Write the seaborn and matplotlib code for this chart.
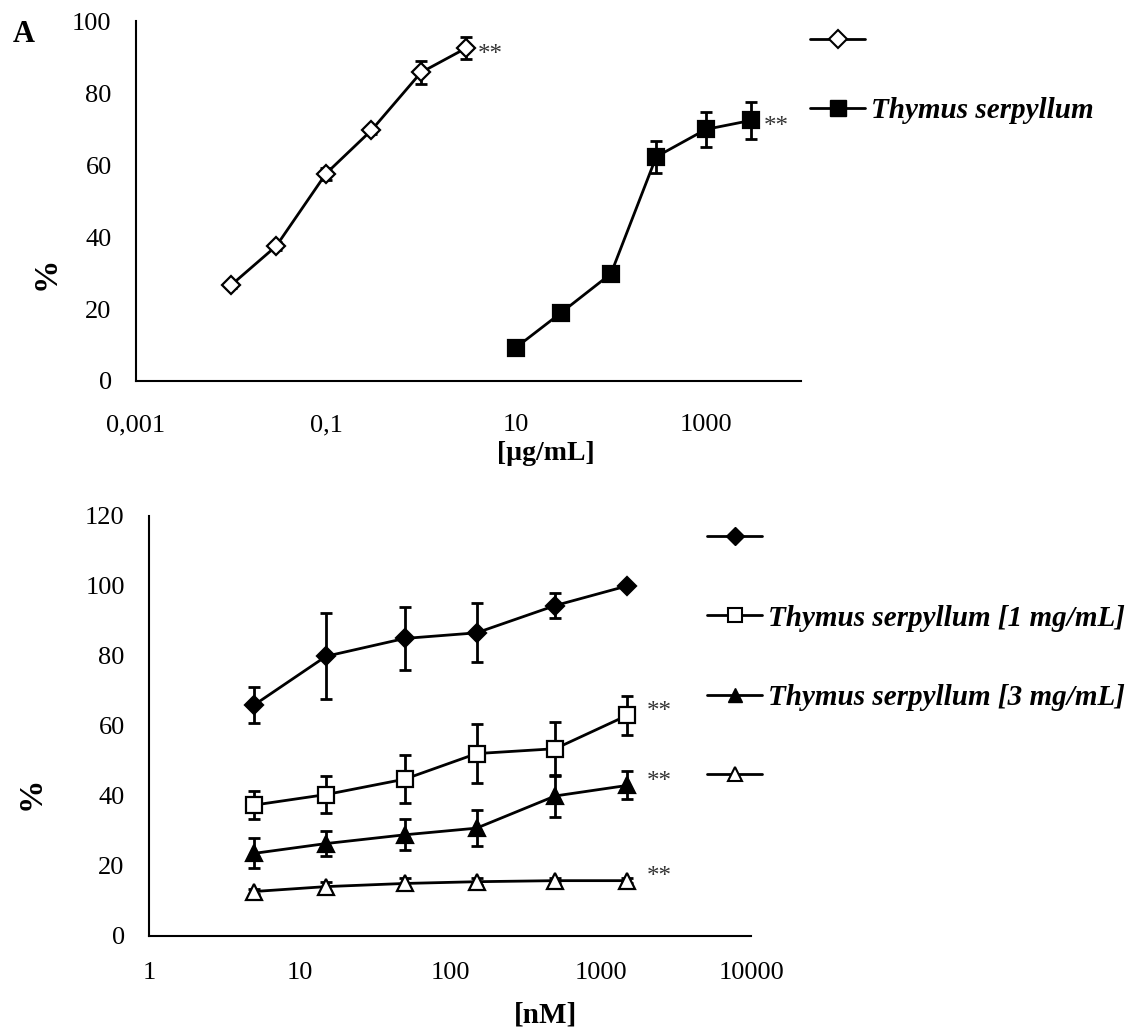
import numpy as np
import pandas as pd
import matplotlib
matplotlib.use("Agg")
import matplotlib.pyplot as plt
from matplotlib.lines import Line2D
import seaborn as sns

# panel A: concentration [ug/mL] vs %
conc_ref = [0.01, 0.03, 0.1, 0.3, 1, 3]
pct_ref = [26.6, 37.5, 57.6, 69.6, 85.7, 92.5]
err_ref = [0.8, 1.0, 1.7, 1.0, 3.2, 3.0]

conc_thy = [10, 30, 100, 300, 1000, 3000]
pct_thy = [9.3, 19.0, 29.8, 62.3, 69.9, 72.4]
err_thy = [0.8, 0.8, 1.5, 4.4, 4.9, 5.2]

top_labels = ["", "Thymus serpyllum"]
top_xticks = [0.001, 0.1, 10, 1000]
top_xticklabels = ["0,001", "0,1", "10", "1000"]

# panel B: concentration [nM] vs %
conc_nm = [5, 15, 50, 150, 500, 1500]
bottom_labels = ["", "Thymus serpyllum [1 mg/mL]", "Thymus serpyllum [3 mg/mL]", ""]
pct_s1 = [66.0, 79.9, 85.0, 86.6, 94.4, 100.0]
err_s1 = [5.2, 12.3, 9.1, 8.4, 3.6, 0.0]
pct_s2 = [37.4, 40.4, 44.8, 52.1, 53.5, 63.0]
err_s2 = [3.9, 5.3, 6.8, 8.5, 7.7, 5.5]
pct_s3 = [23.6, 26.4, 28.9, 30.8, 40.0, 43.0]
err_s3 = [4.3, 3.5, 4.4, 5.1, 5.9, 4.0]
pct_s4 = [12.7, 14.1, 15.0, 15.5, 15.8, 15.8]
err_s4 = [0.8, 1.2, 1.5, 1.0, 0.8, 0.8]
bottom_xticks = [1, 10, 100, 1000, 10000]

sns.set_style("white")
plt.rcParams["font.family"] = ["Liberation Serif", "DejaVu Serif"]
plt.rcParams["text.color"] = "black"
plt.rcParams["axes.labelcolor"] = "black"

FS = 19
fig = plt.figure(figsize=(11.34, 10.30), dpi=100)
ax1 = fig.add_axes([0.1199, 0.6301, 0.5864, 0.3495])
ax2 = fig.add_axes([0.1314, 0.0913, 0.5309, 0.4078])


def draw_series(ax, x, y, err, marker, face, size):
    ax.errorbar(x, y, yerr=err, fmt="none", ecolor="black", elinewidth=2,
                capsize=4, capthick=2, zorder=2)
    sns.lineplot(x=x, y=y, ax=ax, color="black", lw=2, marker=marker,
                 markersize=size, markerfacecolor=face, markeredgecolor="black",
                 markeredgewidth=1.6, zorder=3, legend=False)


def style_axes(ax, xpad):
    ax.set_xscale("log")
    for s in ["top", "right"]:
        ax.spines[s].set_visible(False)
    for s in ["left", "bottom"]:
        ax.spines[s].set_color("black")
        ax.spines[s].set_linewidth(1.5)
    ax.minorticks_off()
    ax.tick_params(axis="both", which="major", direction="out", length=5,
                   width=1.2, color="#999999", labelsize=FS, labelcolor="black")
    ax.tick_params(axis="y", pad=12.5)
    ax.tick_params(axis="x", pad=xpad)


# ---- top panel
draw_series(ax1, conc_ref, pct_ref, err_ref, "D", "white", 9)
draw_series(ax1, conc_thy, pct_thy, err_thy, "s", "black", 11)
style_axes(ax1, 19)
ax1.set_xlim(0.001, 10000)
ax1.set_ylim(0, 100)
ax1.set_yticks(range(0, 101, 20))
ax1.set_xticks(top_xticks)
ax1.set_xticklabels(top_xticklabels)
ax1.set_xlabel("[µg/mL]", fontsize=FS + 1, fontweight="bold")
ax1.xaxis.set_label_coords(0.617, -0.168)
ax1.set_ylabel("%", fontsize=24, fontweight="bold")
ax1.yaxis.set_label_coords(-0.112, 0.30)
ax1.annotate("**", (conc_ref[-1], pct_ref[-1]), xytext=(8, -9),
             textcoords="offset points", fontsize=18, color="#333333")
ax1.annotate("**", (conc_thy[-1], pct_thy[-1]), xytext=(9, -9),
             textcoords="offset points", fontsize=18, color="#333333")
fig.text(0.011, 1 - 35 / 1030, "A", fontsize=22, fontweight="bold", va="center")

top_handles = [
    Line2D([], [], color="black", lw=2, marker="D", markersize=9,
           markerfacecolor="white", markeredgecolor="black", markeredgewidth=1.5),
    Line2D([], [], color="black", lw=2, marker="s", markersize=11,
           markerfacecolor="black"),
]
ax1.legend(top_handles, top_labels, loc="upper left", frameon=False,
           bbox_to_anchor=(810 / 1134, 1 - 28 / 1030), bbox_transform=fig.transFigure,
           borderaxespad=0, borderpad=0, handlelength=1.9, handletextpad=0.2,
           labelspacing=1.45, prop={"family": "Liberation Serif", "weight": "bold",
                                   "style": "italic", "size": 21})

# ---- bottom panel
draw_series(ax2, conc_nm, pct_s1, err_s1, "D", "black", 9)
draw_series(ax2, conc_nm, pct_s2, err_s2, "s", "white", 11)
draw_series(ax2, conc_nm, pct_s3, err_s3, "^", "black", 11)
draw_series(ax2, conc_nm, pct_s4, err_s4, "^", "white", 11)
style_axes(ax2, 13.5)
ax2.set_xlim(1, 10000)
ax2.set_ylim(0, 120)
ax2.set_yticks(range(0, 121, 20))
ax2.set_xticks(bottom_xticks)
ax2.set_xticklabels([str(v) for v in bottom_xticks])
ax2.set_xlabel("[nM]", fontsize=FS + 2, fontweight="bold")
ax2.xaxis.set_label_coords(0.659, -0.155)
ax2.set_ylabel("%", fontsize=24, fontweight="bold")
ax2.yaxis.set_label_coords(-0.17, 0.34)
for vals in [pct_s2, pct_s3, pct_s4]:
    ax2.annotate("**", (conc_nm[-1], vals[-1]), xytext=(14, -2),
                 textcoords="offset points", fontsize=18, color="#333333")

bottom_handles = [
    Line2D([], [], color="black", lw=2, marker="D", markersize=9,
           markerfacecolor="black"),
    Line2D([], [], color="black", lw=2, marker="s", markersize=10,
           markerfacecolor="white", markeredgewidth=1.5),
    Line2D([], [], color="black", lw=2, marker="^", markersize=10,
           markerfacecolor="black"),
    Line2D([], [], color="black", lw=2, marker="^", markersize=10,
           markerfacecolor="white", markeredgewidth=1.5),
]
ax2.legend(bottom_handles, bottom_labels, loc="upper left", frameon=False,
           bbox_to_anchor=(707 / 1134, 1 - 525 / 1030), bbox_transform=fig.transFigure,
           borderaxespad=0, borderpad=0, handlelength=1.9, handletextpad=0.2,
           labelspacing=1.8, prop={"family": "Liberation Serif", "weight": "bold",
                                  "style": "italic", "size": 21})

fig.savefig("out.png", dpi=100)
